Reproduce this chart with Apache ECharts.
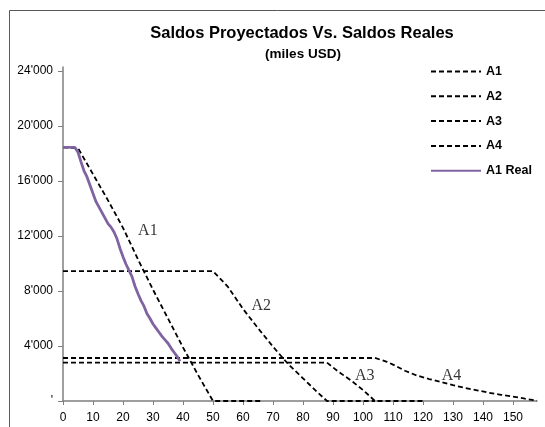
<!DOCTYPE html>
<html>
<head>
<meta charset="utf-8">
<script src="https://cdn.jsdelivr.net/npm/echarts@6/dist/echarts.min.js"></script>
<style>html,body{margin:0;padding:0;background:#fff}#c{width:545px;height:427px}</style>
</head>
<body>
<div id="c"></div>
<script>
// ---- data (x = period, y = miles USD) ----
var a1X = [0, 5, 10, 15, 20, 25, 30, 35, 40, 45, 50, 66];
var a1Y = [18450, 18400, 16500, 14600, 12600, 10300, 8100, 6000, 3900, 1900, 0, 0];
var a2X = [0, 50, 55, 60, 65, 70, 75, 80, 85, 88, 104];
var a2Y = [9450, 9450, 8300, 6700, 5300, 3950, 2700, 1650, 600, 0, 0];
var a3X = [0, 88, 92, 96, 100, 104, 120];
var a3Y = [2790, 2790, 2100, 1500, 800, 0, 0];
var a4X = [0, 104, 108, 110, 114, 118, 122, 126, 130, 134, 138, 142, 146, 150, 154, 158];
var a4Y = [3130, 3130, 2850, 2650, 2200, 1850, 1600, 1380, 1150, 950, 780, 600, 450, 320, 170, 30];
var realX = [0,1,2,3,4,5,6,7,8,9,10,11,12,13,14,15,16,17,18,19,20,21,22,23,24,25,26,27,28,29,30,31,32,33,34,35,36,37,38,39];
var realY = [18450,18450,18450,18450,18450,18100,17400,16750,16300,15700,15100,14500,14100,13700,13300,12900,12650,12300,11800,11100,10500,9950,9500,9050,8350,7800,7300,6900,6350,6000,5600,5300,5000,4700,4450,4200,3850,3550,3250,2900];
var seriesNames = ['A1', 'A2', 'A3', 'A4', 'A1 Real'];
var noteText = ['A1', 'A2', 'A3', 'A4'];
var noteX = [28.3, 66.1, 100.6, 129.5];
var noteY = [12400, 6960, 1820, 1820];

function pairs(xs, ys) { return xs.map(function (x, i) { return [x, ys[i]]; }); }

var dashStyle = { color: '#000', width: 1.8, type: [5, 3] };
function dashed(name, xs, ys) {
  return { name: name, type: 'line', symbol: 'none', showSymbol: false, data: pairs(xs, ys),
    lineStyle: dashStyle, itemStyle: { color: '#000' }, z: 3 };
}

var chart = echarts.init(document.getElementById('c'), null, { renderer: 'canvas' });
chart.setOption({
  animation: false,
  backgroundColor: '#fff',
  title: [
    { text: 'Saldos Proyectados Vs. Saldos Reales', left: 297, top: 20, textAlign: 'center',
      textStyle: { fontFamily: 'Arial, Liberation Sans', fontWeight: 'bold', fontSize: 16.5, color: '#000' } },
    { text: '(miles USD)', left: 298, top: 42, textAlign: 'center',
      textStyle: { fontFamily: 'Arial, Liberation Sans', fontWeight: 'bold', fontSize: 13.5, color: '#000' } }
  ],
  graphic: [{ type: 'rect', shape: { x: 9.5, y: 10.5, width: 545, height: 430 },
    style: { fill: 'none', stroke: '#595959', lineWidth: 1 }, silent: true }],
  legend: {
    orient: 'vertical', left: 425, top: 60, itemWidth: 50, itemHeight: 14, itemGap: 11.8,
    data: seriesNames,
    itemStyle: { opacity: 0 },
    textStyle: { fontFamily: 'Arial, Liberation Sans', fontWeight: 'bold', fontSize: 12.5, color: '#000' }
  },
  grid: { left: 63, right: 8, top: 67, bottom: 26, containLabel: false },
  xAxis: {
    type: 'value', min: 0, max: 158, interval: 10,
    axisLine: { lineStyle: { color: '#7f7f7f', width: 1.5 } },
    axisTick: { show: true, length: 4, lineStyle: { color: '#7f7f7f' } },
    axisLabel: { showMaxLabel: false, color: '#000', fontFamily: 'Arial, Liberation Sans', fontSize: 12, margin: 11 },
    splitLine: { show: false }
  },
  yAxis: {
    type: 'value', min: 0, max: 24300, interval: 4000,
    axisLine: { show: true, lineStyle: { color: '#7f7f7f', width: 1.5 } },
    axisTick: { show: true, length: 5, lineStyle: { color: '#7f7f7f' } },
    axisLabel: { showMaxLabel: false, color: '#000', fontFamily: 'Arial, Liberation Sans', fontSize: 12, margin: 10,
      formatter: function (v) { return v === 0 ? "'" : (v / 1000) + "'000"; } },
    splitLine: { show: false }
  },
  series: [
    dashed('A1', a1X, a1Y),
    dashed('A2', a2X, a2Y),
    dashed('A3', a3X, a3Y),
    dashed('A4', a4X, a4Y),
    { name: 'A1 Real', type: 'line', symbol: 'none', showSymbol: false, data: pairs(realX, realY),
      lineStyle: { color: '#8064A2', width: 2.8 }, itemStyle: { color: '#8064A2' }, z: 4 },
    { name: 'notes', type: 'scatter', symbolSize: 0, silent: true, z: 5,
      data: noteX.map(function (x, i) { return [x, noteY[i], noteText[i]]; }),
      label: { show: true, position: 'inside', formatter: function (p) { return p.data[2]; },
        fontFamily: 'Times New Roman, Liberation Serif', fontSize: 16, color: '#000' } }
  ]
});
</script>
</body>
</html>
